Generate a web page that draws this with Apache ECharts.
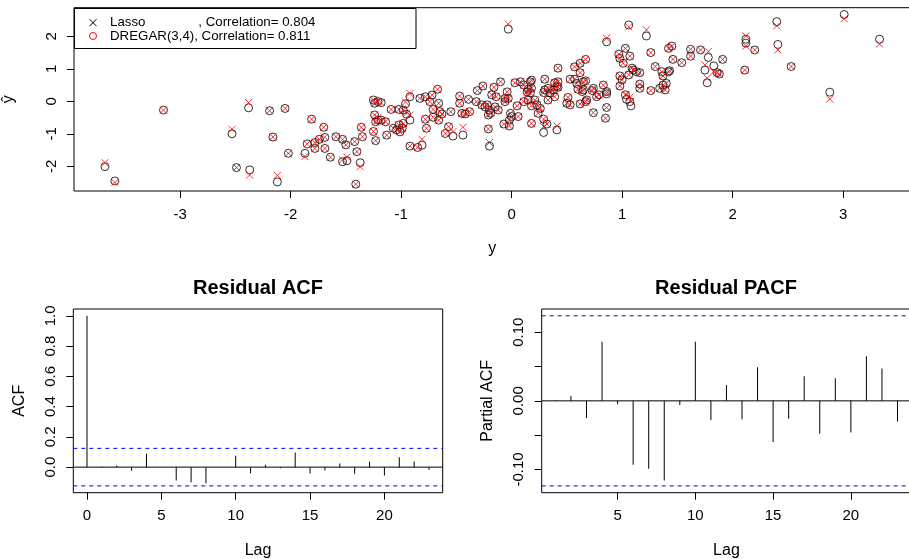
<!DOCTYPE html>
<html>
<head>
<meta charset="utf-8">
<script src="https://cdn.jsdelivr.net/npm/echarts@6/dist/echarts.min.js"></script>
<style>
  html, body { margin: 0; padding: 0; background: #fff; }
  #chart { width: 909px; height: 559px; }
</style>
</head>
<body>
<div id="chart"></div>
<script>
const yObserved = [
  -3.68, -3.59, -3.15, -2.53, -2.49, -2.38, -2.37, -2.19, -2.16, -2.12,
  -2.05, -2.02, -1.87, -1.85, -1.81, -1.78, -1.78, -1.74, -1.70, -1.69,
  -1.69, -1.64, -1.59, -1.53, -1.53, -1.50, -1.49, -1.41, -1.42, -1.40,
  -1.37, -1.36, -1.35, -1.25, -1.23, -1.25, -1.24, -1.21, -1.18, -1.24,
  -1.23, -1.21, -1.18, -1.14, -1.13, -1.09, -1.07, -1.04, -1.02, -1.01,
  -0.99, -0.98, -1.02, -0.98, -0.96, -0.95, -0.92, -0.92, -0.92, -0.85,
  -0.81, -0.78, -0.77, -0.83, -0.78, -0.72, -0.67, -0.74, -0.71, -0.66,
  -0.65, -0.63, -0.71, -0.66, -0.60, -0.57, -0.53, -0.55, -0.47, -0.47,
  -0.45, -0.42, -0.39, -0.38, -0.44, -0.31, -0.26, -0.32, -0.27, -0.22,
  -0.20, -0.21, -0.21, -0.20, -0.16, -0.14, -0.18, -0.24, -0.15, -0.12,
  -0.19, -0.10, -0.04, -0.06, -0.03, -0.06, -0.01, -0.02, 0.00, -0.07,
  -0.02, -0.03, 0.06, 0.05, 0.03, 0.08, 0.11, 0.15, 0.17, 0.18,
  0.14, 0.17, 0.18, 0.11, 0.15, 0.18, 0.21, 0.23, 0.26, 0.24,
  0.18, 0.29, 0.32, 0.29, 0.41, 0.30, 0.30, 0.29, 0.33, 0.33,
  0.35, 0.38, 0.39, 0.41, 0.42, 0.42, 0.39, 0.42, 0.51, 0.50,
  0.53, 0.62, 0.67, 0.68, 0.74, 0.77, 0.79, 0.53, 0.57, 0.59,
  0.60, 0.65, 0.67, 0.65, 0.64, 0.57, 0.62, 0.67, 0.62, 0.74,
  0.73, 0.83, 0.86, 0.86, 0.85, 0.86, 0.86, 0.97, 0.98, 1.01,
  1.03, 1.07, 1.06, 1.09, 1.10, 1.13, 1.16, 0.98, 1.00, 0.98,
  1.03, 1.04, 1.07, 1.08, 1.06, 1.22, 1.16, 1.16, 1.26, 1.30,
  1.36, 1.37, 1.37, 1.34, 1.39, 1.40, 1.42, 1.43, 1.45, 1.42,
  1.46, 1.26, 1.54, 1.62, 1.62, 1.71, 1.78, 1.75, 1.77, 1.83,
  1.86, 1.88, 1.91, 2.11, 2.12, 2.12, 2.20, 2.40, 2.41, 2.53,
  2.88, 3.01, 3.33
];
const yHatLasso = [
  -2.01, -2.45, -0.27, -1.00, -2.04, -0.20, -2.11, -0.29, -1.10, -2.48,
  -0.22, -1.60, -1.60, -1.31, -0.55, -1.27, -1.45, -1.17, -0.80, -1.11,
  -1.45, -1.72, -1.09, -1.17, -1.86, -1.34, -1.83, -2.55, -1.24, -1.55,
  -1.89, -0.80, -1.09, -0.93, -1.21, 0.04, -0.06, -0.01, -0.04, -0.42,
  -0.63, -0.58, -0.58, -0.63, -1.04, -0.25, -0.83, -0.88, -0.73, -0.94,
  -0.83, -0.68, -0.25, -0.27, -0.08, -0.40, -0.58, 0.14, -1.38, -1.42,
  -1.35, -0.55, -0.83, 0.09, 0.14, 0.19, 0.37, -0.01, -0.25, -0.06,
  -0.32, -0.39, -0.49, -0.58, -0.99, -0.78, -1.07, -0.32, 0.16, -0.06,
  -0.37, -0.39, 0.06, -0.32, -1.04, 0.33, 0.47, -0.01, -0.11, -0.11,
  -0.27, -0.42, -0.85, -1.38, 0.43, 0.14, 0.20, -0.17, -0.17, -0.27,
  -0.37, 0.60, 0.29, 0.09, 0.09, -0.01, -0.37, -0.58, -0.47, -0.70,
  -0.76, 2.22, -0.47, -0.14, 0.57, 0.60, 0.50, 0.37, 0.60, 0.65,
  0.29, 0.26, 0.40, -0.01, 0.04, -0.14, 0.04, -0.11, -0.22, -0.37,
  -0.68, -0.55, -0.70, -0.96, -0.88, 0.68, 0.35, 0.27, 0.40, 0.04,
  0.25, 0.35, 0.14, 0.47, 0.60, 0.43, 0.57, 1.02, 0.12, -0.06,
  -0.11, -0.08, -0.01, 0.04, -0.35, 0.14, 0.20, 0.68, 0.68, 0.55,
  0.37, 0.60, 0.63, 0.35, 0.30, 1.06, 1.17, 1.29, 0.88, 0.40,
  0.33, 0.50, 0.30, 0.23, -0.52, -0.19, 1.83, 1.45, 1.32, 1.17,
  1.63, 1.39, 0.81, 1.02, 0.96, 0.91, 0.88, 0.78, 0.66, 0.47,
  0.20, 0.06, -0.01, -0.14, 2.35, 2.01, 0.53, 0.40, 1.50, 1.07,
  0.91, 0.78, 0.50, 0.40, 0.35, 0.55, 0.91, 0.94, 1.70, 1.63,
  1.29, 0.33, 1.19, 1.60, 1.39, 1.58, 1.35, 0.96, 0.57, 1.09,
  0.88, 0.84, 1.29, 0.96, 1.91, 1.79, 1.58, 2.45, 1.75, 1.07,
  0.28, 2.67, 1.91
];
const yHatDregar = [
  -1.89, -2.50, -0.27, -0.86, -2.04, -0.04, -2.27, -0.29, -1.10, -2.28,
  -0.22, -1.60, -1.70, -1.31, -0.55, -1.27, -1.45, -1.17, -0.80, -1.11,
  -1.45, -1.72, -1.09, -1.17, -1.80, -1.34, -1.72, -2.55, -1.24, -1.55,
  -2.01, -0.80, -1.09, -0.93, -1.21, 0.04, -0.06, -0.01, -0.04, -0.42,
  -0.63, -0.50, -0.58, -0.63, -1.04, -0.25, -0.83, -0.88, -0.73, -0.94,
  -0.83, -0.68, -0.25, -0.27, -0.02, -0.36, -0.42, 0.24, -1.38, -1.42,
  -1.17, -0.55, -0.83, 0.09, 0.14, 0.19, 0.37, -0.01, -0.25, -0.06,
  -0.32, -0.39, -0.49, -0.58, -0.99, -0.78, -0.93, -0.32, 0.16, -0.06,
  -0.37, -0.39, 0.06, -0.32, -0.80, 0.33, 0.47, -0.01, -0.11, -0.11,
  -0.27, -0.42, -0.85, -1.27, 0.43, 0.14, 0.20, -0.17, -0.17, -0.27,
  -0.37, 0.60, 0.29, 0.09, 0.09, -0.01, -0.37, -0.58, -0.47, -0.70,
  -0.76, 2.38, -0.47, -0.14, 0.57, 0.60, 0.50, 0.37, 0.60, 0.65,
  0.29, 0.26, 0.40, -0.01, 0.04, -0.14, 0.04, -0.11, -0.22, -0.37,
  -0.68, -0.55, -0.70, -0.78, -0.76, 0.68, 0.35, 0.27, 0.40, 0.04,
  0.25, 0.35, 0.14, 0.47, 0.60, 0.43, 0.57, 1.02, 0.12, -0.06,
  -0.11, -0.08, -0.01, 0.04, -0.35, 0.14, 0.20, 0.68, 0.68, 0.55,
  0.37, 0.60, 0.63, 0.35, 0.30, 1.06, 1.17, 1.29, 0.88, 0.40,
  0.33, 0.50, 0.30, 0.23, -0.52, -0.19, 1.94, 1.45, 1.32, 1.17,
  1.63, 1.39, 0.81, 1.02, 0.96, 0.91, 0.88, 0.78, 0.66, 0.47,
  0.20, 0.20, 0.12, 0.00, 2.29, 2.20, 0.53, 0.40, 1.50, 1.07,
  0.91, 0.78, 0.50, 0.40, 0.35, 0.55, 0.91, 0.94, 1.70, 1.63,
  1.29, 0.33, 1.19, 1.60, 1.39, 1.58, 1.53, 1.12, 0.71, 0.91,
  0.88, 0.84, 1.29, 0.96, 2.01, 1.70, 1.58, 2.32, 1.58, 1.07,
  0.07, 2.54, 1.76
];

// residual autocorrelations
const acfLags = [0, 1, 2, 3, 4, 5, 6, 7, 8, 9, 10, 11, 12, 13, 14, 15, 16, 17, 18, 19, 20, 21, 22, 23];
const acfValues = [1.0, 0.003, 0.01, -0.024, 0.088, -0.003, -0.088, -0.1, -0.106, -0.002, 0.075, -0.04,
  0.015, -0.008, 0.097, -0.042, -0.022, 0.024, -0.044, 0.035, -0.055, 0.066, 0.038, -0.018];
const pacfLags = [1, 2, 3, 4, 5, 6, 7, 8, 9, 10, 11, 12, 13, 14, 15, 16, 17, 18, 19, 20, 21, 22, 23];
const pacfValues = [0.001, 0.007, -0.025, 0.086, -0.005, -0.093, -0.099, -0.116, -0.006, 0.086, -0.028,
  0.023, -0.027, 0.049, -0.06, -0.026, 0.036, -0.048, 0.033, -0.046, 0.065, 0.047, -0.03];
const ciBound = 0.124;

// axis limits
const scatterXRange = [-3.96, 3.61];
const scatterYRange = [-2.76, 2.88];
const acfXRange = [-0.92, 23.92];
const acfYRange = [-0.169, 1.045];
const pacfXRange = [0.12, 23.88];
const pacfYRange = [-0.1339, 0.1339];

// tick positions
const scatterXTicks = [-3, -2, -1, 0, 1, 2, 3];
const scatterYTicks = [-2, -1, 0, 1, 2];
const acfXTicks = [0, 5, 10, 15, 20];
const acfYTicks = [0, 0.2, 0.4, 0.6, 0.8, 1.0];
const pacfXTicks = [5, 10, 15, 20];
const pacfYTicks = [-0.1, -0.05, 0, 0.05, 0.1];
const pacfYLabels = [-0.1, 0, 0.1];

const FONT = "'Liberation Sans', Arial, Helvetica, sans-serif";

function valueAxis(gridIndex, range, ticks, labels, opts) {
  return Object.assign({
    type: 'value',
    gridIndex,
    min: range[0],
    max: range[1],
    axisLine: { show: false, onZero: false },
    axisTick: { show: true, inside: false, length: 7, customValues: ticks, lineStyle: { color: '#000', width: 1 } },
    axisLabel: { customValues: labels, margin: 16, fontSize: 15, color: '#000', fontFamily: FONT, hideOverlap: false },
    splitLine: { show: false },
    nameLocation: 'middle',
    nameTextStyle: { fontSize: 16, color: '#000', fontFamily: FONT }
  }, opts || {});
}

function stickSeries(axisIndex, lags, values) {
  return {
    type: 'bar',
    xAxisIndex: axisIndex,
    yAxisIndex: axisIndex,
    data: lags.map((l, i) => [l, values[i]]),
    barWidth: 1,
    itemStyle: { color: '#000' },
    silent: true,
    z: 3
  };
}

// horizontal reference line spanning the panel (zero line or confidence bound)
function hLine(axisIndex, xRange, level, color, type) {
  return {
    type: 'line',
    xAxisIndex: axisIndex,
    yAxisIndex: axisIndex,
    data: [[xRange[0], level], [xRange[1], level]],
    symbol: 'none',
    silent: true,
    lineStyle: { color, type, width: 1 },
    z: 2
  };
}

const chart = echarts.init(document.getElementById('chart'), null, { renderer: 'canvas' });

const gridBox = { show: true, borderColor: '#000', borderWidth: 1, backgroundColor: 'transparent', outerBoundsMode: 'none', containLabel: false };

const option = {
  animation: false,
  backgroundColor: '#fff',
  grid: [
    Object.assign({ left: 74, top: 7.7, width: 836.5, height: 183.3 }, gridBox),
    Object.assign({ left: 73.3, top: 309, width: 369.4, height: 183.7 }, gridBox),
    Object.assign({ left: 541.7, top: 309, width: 369.5, height: 183.7 }, gridBox)
  ],
  xAxis: [
    valueAxis(0, scatterXRange, scatterXTicks, scatterXTicks, { name: 'y', nameGap: 50 }),
    valueAxis(1, acfXRange, acfXTicks, acfXTicks, { name: 'Lag', nameGap: 50 }),
    valueAxis(2, pacfXRange, pacfXTicks, pacfXTicks, { name: 'Lag', nameGap: 50 })
  ],
  yAxis: [
    valueAxis(0, scatterYRange, scatterYTicks, scatterYTicks, { name: 'ŷ', nameGap: 57, nameRotate: 90 }),
    valueAxis(1, acfYRange, acfYTicks, acfYTicks, { name: 'ACF', nameGap: 46, nameRotate: 90 }),
    valueAxis(2, pacfYRange, pacfYTicks, pacfYLabels, { name: 'Partial ACF', nameGap: 46, nameRotate: 90 })
  ],
  series: [
    {
      name: 'Lasso',
      type: 'scatter',
      xAxisIndex: 0,
      yAxisIndex: 0,
      data: yObserved.map((v, i) => [v, yHatLasso[i]]),
      symbol: 'circle',
      symbolSize: 8,
      itemStyle: { color: 'rgba(0,0,0,0)', borderColor: '#000', borderWidth: 1 },
      silent: true
    },
    {
      name: 'DREGAR(3,4)',
      type: 'scatter',
      xAxisIndex: 0,
      yAxisIndex: 0,
      data: yObserved.map((v, i) => [v, yHatDregar[i]]),
      symbol: 'path://M0,0L10,10M10,0L0,10',
      symbolSize: 7,
      itemStyle: { color: 'rgba(0,0,0,0)', borderColor: '#ff0000', borderWidth: 1 },
      silent: true
    },
    stickSeries(1, acfLags, acfValues),
    hLine(1, acfXRange, 0, '#000', 'solid'),
    hLine(1, acfXRange, ciBound, '#0000ff', [4, 4]),
    hLine(1, acfXRange, -ciBound, '#0000ff', [4, 4]),
    stickSeries(2, pacfLags, pacfValues),
    hLine(2, pacfXRange, 0, '#000', 'solid'),
    hLine(2, pacfXRange, ciBound, '#0000ff', [4, 4]),
    hLine(2, pacfXRange, -ciBound, '#0000ff', [4, 4])
  ],
  graphic: [
    // legend box (symbols as in the original, which swaps the marker shapes)
    { type: 'rect', z: 100, shape: { x: 74.5, y: 8.5, width: 341.5, height: 40 }, style: { fill: '#fff', stroke: '#000', lineWidth: 1 } },
    { type: 'line', z: 101, shape: { x1: 89.5, y1: 19.2, x2: 96.5, y2: 26.2 }, style: { stroke: '#000', lineWidth: 1 } },
    { type: 'line', z: 101, shape: { x1: 96.5, y1: 19.2, x2: 89.5, y2: 26.2 }, style: { stroke: '#000', lineWidth: 1 } },
    { type: 'circle', z: 101, shape: { cx: 93, cy: 36, r: 3.5 }, style: { fill: 'none', stroke: '#ff0000', lineWidth: 1 } },
    { type: 'text', z: 101, x: 110, y: 22.7, style: { text: 'Lasso', font: '13.3px ' + FONT, fill: '#000', verticalAlign: 'middle' } },
    { type: 'text', z: 101, x: 198.3, y: 22.7, style: { text: ', Correlation= 0.804', font: '13.3px ' + FONT, fill: '#000', verticalAlign: 'middle' } },
    { type: 'text', z: 101, x: 110, y: 36, style: { text: 'DREGAR(3,4), Correlation= 0.811', font: '13.3px ' + FONT, fill: '#000', verticalAlign: 'middle' } },
    // panel titles
    { type: 'text', x: 258, y: 288, style: { text: 'Residual ACF', font: 'bold 20px ' + FONT, fill: '#000', align: 'center', verticalAlign: 'middle' } },
    { type: 'text', x: 726, y: 288, style: { text: 'Residual PACF', font: 'bold 20px ' + FONT, fill: '#000', align: 'center', verticalAlign: 'middle' } }
  ]
};

// label formats and orientation (y labels run along the axis)
option.yAxis[1].axisLabel.formatter = v => v.toFixed(1);
option.yAxis[2].axisLabel.formatter = v => v.toFixed(2);
option.yAxis.forEach(ax => { ax.axisLabel.rotate = 90; ax.axisLabel.margin = 15; });

chart.setOption(option);
</script>
</body>
</html>
